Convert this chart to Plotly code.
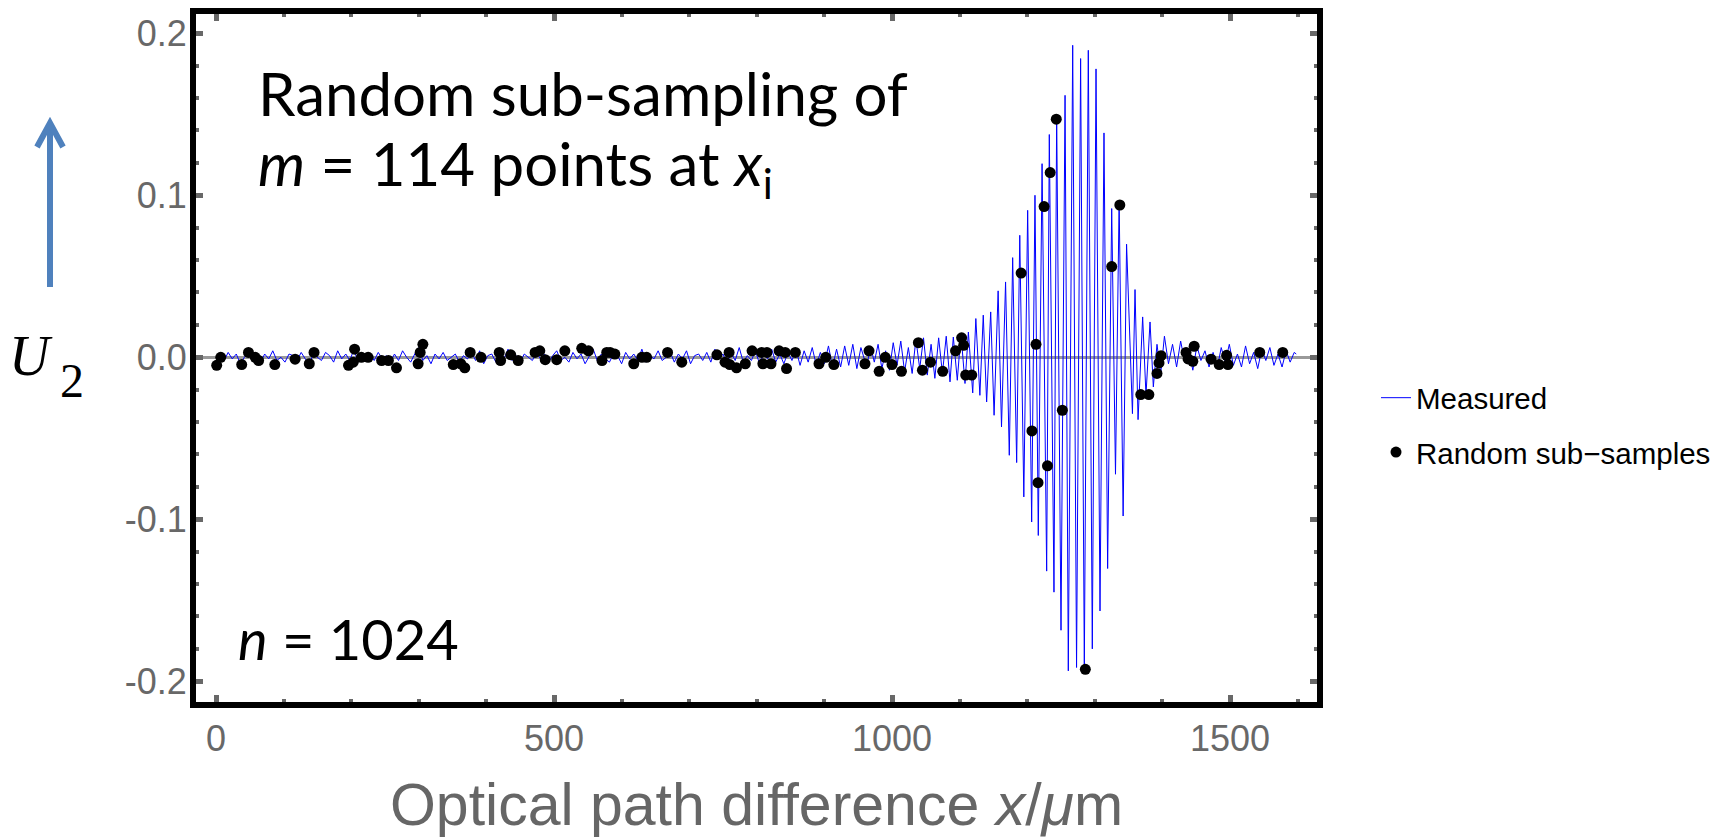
import plotly.graph_objects as go

# ---------------- data (x in micrometres, U2 in milli-units) ----------------
noise_x = [0, 6, 12, 18, 24, 30, 36, 42, 48, 54, 60, 66, 72, 78, 84, 90, 96, 102, 108, 114,
           120, 126, 132, 138, 144, 150, 156, 162, 168, 174, 180, 186, 192, 198, 204, 210, 216, 222, 228, 234,
           240, 246, 252, 258, 264, 270, 276, 282, 288, 294, 300, 306, 312, 318, 324, 330, 336, 342, 348, 354,
           360, 366, 372, 378, 384, 390, 396, 402, 408, 414, 420, 426, 432, 438, 444, 450, 456, 462, 468, 474,
           480, 486, 492, 498, 504, 510, 516, 522, 528, 534, 540, 546, 552, 558, 564, 570, 576, 582, 588, 594,
           600, 606, 612, 618, 624, 630, 636, 642, 648, 654, 660, 666, 672, 678, 684, 690, 696, 702, 708, 714,
           720, 726, 732, 738, 744, 750, 756, 762, 768, 774, 780, 786, 792, 798, 804, 810, 816, 822, 828, 834,
           840, 846, 852, 858, 864, 870, 876, 882, 888, 894, 900, 906, 912, 918, 924, 930, 936, 942, 948, 954]
noise_y = [-3, 1, -2, 3, -1, 2, -4, 0, 3, -2, 1, -3, 2, -1, 4, -2, 0, -3, 2, 1,
           -2, 3, -1, -4, 2, 0, -2, 3, 1, -3, 4, -1, 2, -2, 5, -3, 1, -1, 2, -2,
           3, -1, 1, -3, 2, -2, 4, 0, -3, 2, 6, -2, 1, -4, 2, -1, 3, -2, 0, 2,
           -3, 1, -1, 3, -2, 4, -4, 1, 2, -3, 3, -1, 5, -2, 1, -3, 2, 0, -2, 3,
           -1, 2, -3, 1, 4, -2, 0, -3, 3, -1, 2, -4, 1, 5, -2, 2, -1, -3, 2, 1,
           -4, 3, -1, 2, -2, 5, -3, 1, -1, 4, -2, 0, 3, -3, 2, -1, 4, -4, 1, 2,
           -2, 3, -3, 5, -1, 2, -4, 3, -2, 6, -3, 1, -2, 4, -4, 2, -1, 5, -3, 2,
           -4, 3, -2, 5, -5, 4, -3, 6, -5, 3, -4, 7, -6, 5, -6, 7, -5, 8, -7, 6]
onset_x = [962.6, 968.2, 973.8, 979.4, 985.0, 990.6, 996.2, 1001.8, 1007.4, 1013.0, 1018.6,
           1024.2, 1029.8, 1035.4, 1041.0, 1046.6, 1052.2, 1057.8, 1063.4, 1069.0, 1074.6, 1080.2]
onset_y = [-6, 7, -3, 8, -7, 4, -8, 9, -5, 10, -9, 6, -10, 11, -7, 12, -11, 8, -13, 12, -10, 13]
burst_x = [1085.8, 1090.7, 1096.6, 1102.0, 1108.0, 1113.0, 1119.4, 1124.0, 1130.0, 1135.0,
           1140.0, 1146.0, 1151.0, 1157.0, 1162.0, 1168.0, 1173.5, 1178.5, 1184.4, 1189.0,
           1195.0, 1200.7, 1206.6, 1211.5, 1216.4, 1222.0, 1228.8, 1232.7, 1239.6, 1243.6,
           1250.0, 1256.0, 1260.8, 1267.3, 1273.0, 1279.0, 1284.5, 1290.4, 1296.3, 1301.8,
           1307.7, 1313.6, 1319.0, 1325.0, 1330.6, 1336.0, 1341.9, 1347.0, 1355.7, 1359.5,
           1364.0, 1370.8, 1375.7, 1381.7, 1386.6, 1392.0, 1397.5]
burst_y = [-15.2, 12.5, -14.2, 14.6, -16.2, 15.6, -22, 23.9, -23.5, 26,
           -27.6, 28, -35.8, 41, -43, 46.5, -60.5, 61.5, -65, 75.3,
           -86.2, 90.7, -101.7, 100, -110, 119.5, -132, 137.5, -145, 150,
           -168.5, 161.7, -193.6, 192.6, -191.5, 184.4, -191.2, 189.5, -180, 178,
           -156.6, 138.5, -130.4, 91.8, -72.2, 97, -98, 69.8, -34.8, 41.8,
           -38.5, 24.9, -23.5, 21.8, -18.3, 8, -10.1]
tail_x = [1403, 1409, 1415, 1421, 1427, 1433, 1439, 1445, 1451, 1457, 1463, 1469, 1475, 1481,
          1487, 1493, 1499, 1505, 1511, 1517, 1523, 1529, 1535, 1541, 1547, 1553, 1559, 1565,
          1571, 1577, 1583, 1589, 1595, 1598]
tail_y = [13, -4, 8, -6, 10, -3, 5, -8, 7, -2, 4, -6, 3, -7, 6, -3, 8, -5, 2, -6,
          7, -4, 3, -7, 5, -2, 6, -5, 2, -6, 4, -3, 3, 2]

samp_x = [1, 7, 38, 48, 58, 63, 87, 117, 138, 145, 196, 203, 205, 215, 225, 245, 255, 267,
          299, 302, 306, 351, 362, 368, 376, 392, 419, 421, 436, 447, 472, 479, 487, 504, 516,
          541, 551, 571, 578, 583, 590, 618, 630, 637, 668, 689, 741, 753, 759, 760, 770, 783,
          793, 807, 809, 815, 821, 833, 842, 844, 857, 892, 902, 914, 960, 966, 981, 990, 1000,
          1014, 1039, 1045, 1057, 1075, 1094, 1103, 1106, 1109, 1118, 1191, 1207, 1213, 1216,
          1225, 1230, 1234, 1243, 1252, 1286, 1325, 1337, 1368, 1380, 1392, 1395, 1398, 1435,
          1438, 1445, 1447, 1472, 1484, 1495, 1497, 1544, 1578]
samp_y = [-5, 0, -4.5, 3, 0, -2, -4.5, -1.2, -4, 3, -5, -3, 5, 0, 0, -2, -2, -6.5,
          -4, 3, 8, -4.5, -4, -6.5, 3, 0, 3, -2, 1.5, -2, 3, 4, -1.5, -1.5, 4,
          5.5, 4, -2, 3, 3, 2, -4, 0, 0, 3, -3, 1.5, -3, 3, -4.5, -6.5, -4,
          4, 3, -4, 3, -4, 4, 3, -7, 3, -4, 0, -4.5, -4, 4, -8.7, 0, -4.5,
          -8.7, 9, -8, -3, -8.7, 4, 12, 7.4, -11, -11, 52, -45.5, 8, -77.4,
          93, -67, 114, 147, -32.7, -192.6, 56, 94, -23, -23, -10, -3.5, 1, 3,
          -1, -2.5, 6.8, -1.2, -4.5, 1.2, -4.5, 3, 3]

x_tick_vals = [0, 500, 1000, 1500]
x_tick_text = ["0", "500", "1000", "1500"]
y_tick_vals = [-0.2, -0.1, 0.0, 0.1, 0.2]
y_tick_text = ["-0.2", "-0.1", "0.0", "0.1", "0.2"]

meas_x = noise_x + onset_x + burst_x + tail_x
meas_y = [v / 1000 for v in (noise_y + onset_y + burst_y + tail_y)]
samp_yv = [v / 1000 for v in samp_y]

# ---------------- layout geometry ----------------
W, H = 1721, 838
L, R, T, B = 196, 404, 14, 136
PW, PH = W - L - R, H - T - B


def px(x):
    return (x - L) / PW


def py(y):
    return (H - B - y) / PH


TICKGRAY = "#686868"
fig = go.Figure()
fig.add_trace(go.Scatter(x=meas_x, y=meas_y, mode="lines", name="Measured",
                         line=dict(color="#0000ff", width=1), legendgroup="a"))
fig.add_trace(go.Scatter(x=samp_x, y=samp_yv, mode="markers", name="Random sub\u2212samples",
                         marker=dict(color="black", size=11), legendgroup="b"))

axis_common = dict(showline=True, linecolor="black", linewidth=6, mirror="allticks",
                   ticks="inside", ticklen=7, tickwidth=5, tickcolor=TICKGRAY,
                   showgrid=False, tickfont=dict(family="Liberation Sans, Arial", size=36, color=TICKGRAY))

fig.update_xaxes(range=[-29.6, 1628.7], tickmode="array", tickvals=x_tick_vals, ticktext=x_tick_text,
                 zeroline=False,
                 minor=dict(ticks="inside", ticklen=3, tickwidth=4, tickcolor=TICKGRAY,
                            tickmode="linear", tick0=0, dtick=100, showgrid=False),
                 title=dict(text="Optical path difference <i>x</i>/<i>\u03bc</i>m", standoff=30,
                            font=dict(family="Liberation Sans, Arial", size=59, color="#666666")),
                 **axis_common)
fig.update_yaxes(range=[-0.2128, 0.2119], tickmode="array", tickvals=y_tick_vals, ticktext=y_tick_text,
                 zeroline=True, zerolinecolor="#999999", zerolinewidth=2.5, ticklabelstandoff=-4,
                 minor=dict(ticks="inside", ticklen=3, tickwidth=4, tickcolor=TICKGRAY,
                            tickmode="linear", tick0=0, dtick=0.02, showgrid=False),
                 **axis_common)

big_font = dict(family="Lato, Open Sans, sans-serif", size=60, color="black")
n_font = dict(family="Lato, Open Sans, sans-serif", size=56, color="black")
annots = [
    dict(text="Random sub-sampling of", x=px(256), y=py(93), font=big_font),
    dict(text="<i>m</i> = 114 points at <i>x</i><sub>i</sub>", x=px(256), y=py(168), font=big_font),
    dict(text="<i>n</i> = 1024", x=px(236), y=py(638), font=n_font),
]
for a in annots:
    fig.add_annotation(xref="paper", yref="paper", xanchor="left", yanchor="middle",
                       showarrow=False, **a)
fig.add_annotation(xref="paper", yref="paper", xanchor="left", yanchor="middle", showarrow=False,
                   text="<i>U</i>", x=px(7), y=py(356),
                   font=dict(family="Liberation Serif, Times New Roman, serif", size=56, color="black"))
fig.add_annotation(xref="paper", yref="paper", xanchor="left", yanchor="middle", showarrow=False,
                   text="2", x=px(58), y=py(380),
                   font=dict(family="Liberation Serif, Times New Roman, serif", size=48, color="black"))

ARROW = "#4f81bd"
fig.add_shape(type="line", xref="paper", yref="paper", x0=px(50), x1=px(50), y0=py(287), y1=py(125),
              line=dict(color=ARROW, width=6))
fig.add_shape(type="path", xref="paper", yref="paper",
              path="M %f,%f L %f,%f L %f,%f" % (px(37), py(147), px(50), py(123), px(63), py(147)),
              line=dict(color=ARROW, width=6))

fig.update_layout(
    width=W, height=H,
    margin=dict(l=L, r=R, t=T, b=B, autoexpand=False),
    paper_bgcolor="white", plot_bgcolor="white",
    showlegend=True,
    legend=dict(x=px(1376), y=py(372), xanchor="left", yanchor="top",
                font=dict(family="Liberation Sans, Arial", size=29.5, color="black"),
                bgcolor="rgba(0,0,0,0)", traceorder="grouped", tracegroupgap=13),
)

fig.write_html("out.html")
